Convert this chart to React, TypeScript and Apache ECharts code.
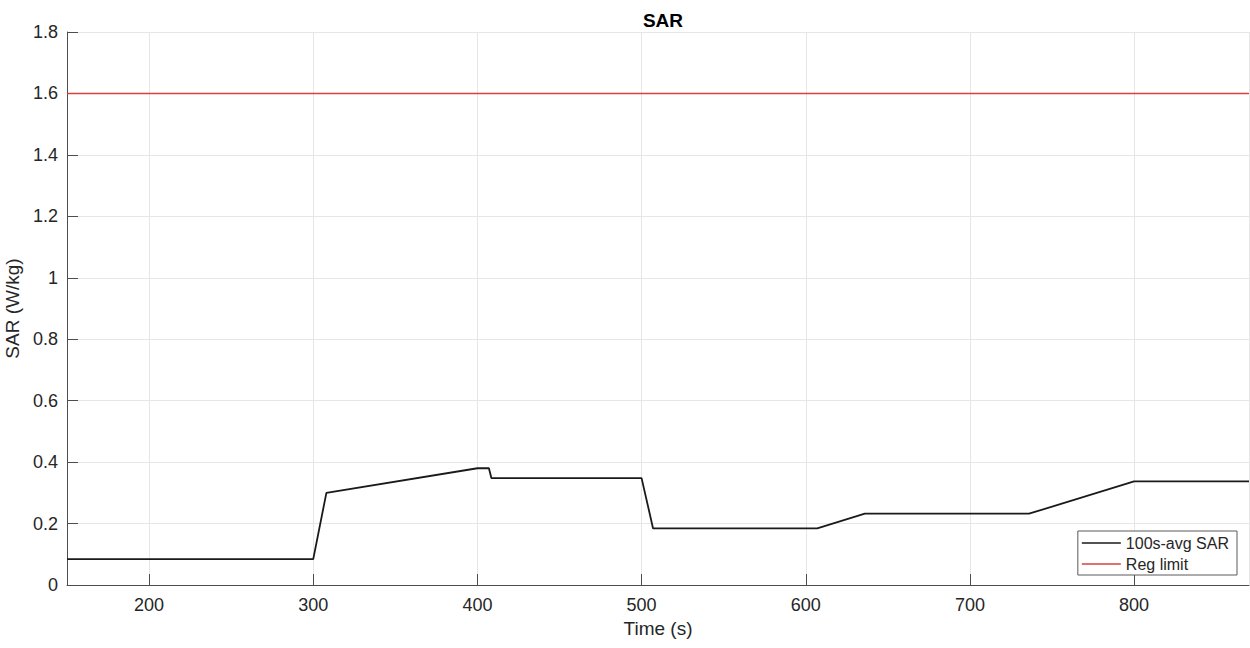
import React, { useEffect, useRef } from "react";
import * as echarts from "echarts";

const times = [150, 300, 308, 400, 407, 408.5, 500, 507, 607, 636, 736, 800, 870];
const sarValues = [0.084, 0.084, 0.3, 0.38, 0.38, 0.348, 0.348, 0.184, 0.184, 0.232, 0.232, 0.337, 0.337];
const limitTimes = [150, 870];
const limitValues = [1.6, 1.6];
const seriesNames = ["100s-avg SAR", "Reg limit"];

export default function App() {
  const ref = useRef<HTMLDivElement>(null);
  useEffect(() => {
    if (!ref.current) return;
    const chart = echarts.init(ref.current, null, { renderer: "svg" });
    const font = "'Liberation Sans', Arial, Helvetica, sans-serif";
    const axisColor = "#4d4d4d";
    const textColor = "#262626";
    chart.setOption({
      animation: false,
      backgroundColor: "#ffffff",
      textStyle: { fontFamily: font },
      title: {
        text: "SAR",
        left: 658,
        top: 6,
        textAlign: "center",
        textStyle: { fontFamily: font, fontSize: 19, fontWeight: "bold", color: "#000" },
      },
      grid: { left: 67, top: 32, right: 1, bottom: 63, containLabel: false, outerBoundsMode: "none" },
      legend: {
        orient: "vertical",
        right: 13,
        bottom: 73,
        icon: "rect",
        itemWidth: 39,
        itemHeight: 1.6,
        itemGap: 5,
        itemTextGap: 6,
        padding: [4, 8, 3, 4],
        backgroundColor: "#fff",
        borderColor: "#5a5a5a",
        borderWidth: 1,
        borderRadius: 0,
        textStyle: { fontFamily: font, fontSize: 16, color: textColor },
        data: seriesNames,
      },
      xAxis: {
        type: "value",
        min: 150,
        max: 870,
        splitNumber: 7,
        name: "Time (s)",
        nameLocation: "middle",
        nameGap: 34,
        nameTextStyle: { fontFamily: font, fontSize: 19, color: textColor },
        axisLine: { show: true, onZero: false, lineStyle: { color: axisColor, width: 1 } },
        axisTick: { show: true, inside: true, length: 11, lineStyle: { color: axisColor } },
        axisLabel: { showMinLabel: false, showMaxLabel: false, margin: 11, fontFamily: font, fontSize: 18, color: textColor },
        splitLine: { show: true, lineStyle: { color: "#e6e6e6", width: 1 } },
      },
      yAxis: {
        type: "value",
        min: 0,
        max: 1.8,
        interval: 0.2,
        name: "SAR (W/kg)",
        nameLocation: "middle",
        nameGap: 38,
        nameTextStyle: { fontFamily: font, fontSize: 19, color: textColor },
        axisLine: { show: true, lineStyle: { color: axisColor, width: 1 } },
        axisTick: { show: true, inside: true, length: 11, lineStyle: { color: axisColor } },
        axisLabel: { margin: 9, fontFamily: font, fontSize: 18, color: textColor },
        splitLine: { show: true, lineStyle: { color: "#e6e6e6", width: 1 } },
      },
      series: [
        {
          name: seriesNames[0],
          type: "line",
          showSymbol: false,
          symbol: "none",
          data: times.map((t, i) => [t, sarValues[i]]),
          lineStyle: { color: "#1a1a1a", width: 1.8 },
          itemStyle: { color: "#1a1a1a" },
          z: 3,
        },
        {
          name: seriesNames[1],
          type: "line",
          showSymbol: false,
          symbol: "none",
          data: limitTimes.map((t, i) => [t, limitValues[i]]),
          lineStyle: { color: "#d9413f", width: 1.6 },
          itemStyle: { color: "#d9413f" },
          z: 2,
        },
      ],
    });
    return () => chart.dispose();
  }, []);
  return <div ref={ref} style={{ position: "fixed", left: 0, top: 0, width: 1250, height: 648 }} />;
}
